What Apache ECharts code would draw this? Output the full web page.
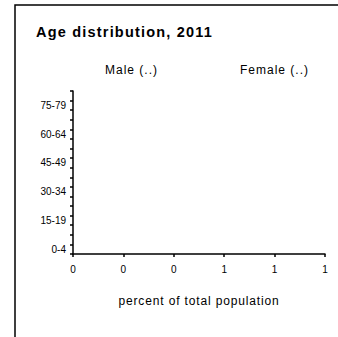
<!DOCTYPE html>
<html>
<head>
<meta charset="utf-8">
<script src="https://cdn.jsdelivr.net/npm/echarts@6/dist/echarts.min.js"></script>
<style>html,body{margin:0;padding:0;background:#fff}#c{width:338px;height:337px}</style>
</head>
<body>
<div id="c"></div>
<script>
var titleText = 'Age distribution, 2011';
var xAxisName = 'percent of total population';
var ageGroups = ['0-4','5-9','10-14','15-19','20-24','25-29','30-34','35-39','40-44','45-49','50-54','55-59','60-64','65-69','70-74','75-79','80+'];
var seriesNames = ['Male (..)', 'Female (..)'];
// values not available ("..") in the source
var maleValues = [null,null,null,null,null,null,null,null,null,null,null,null,null,null,null,null,null];
var femaleValues = [null,null,null,null,null,null,null,null,null,null,null,null,null,null,null,null,null];
var xTickValues = [0, 0.2, 0.4, 0.6, 0.8, 1];

var FONT = '"Liberation Sans", Arial, sans-serif';
var chart = echarts.init(document.getElementById('c'), null, {renderer: 'svg'});
chart.setOption({
  animation: false,
  backgroundColor: '#fff',
  graphic: [
    {type: 'rect', shape: {x: 15, y: 5, width: 400, height: 400},
     style: {fill: 'none', stroke: '#000', lineWidth: 1.5}, silent: true},
    {type: 'text', x: 36, y: 32, style: {text: titleText, font: 'bold 14.5px ' + FONT, fill: '#000', textAlign: 'left', textVerticalAlign: 'middle'}},
    {type: 'text', x: 105, y: 70, style: {text: seriesNames[0], font: '12px ' + FONT, fill: '#000', textAlign: 'left', textVerticalAlign: 'middle'}},
    {type: 'text', x: 240, y: 70, style: {text: seriesNames[1], font: '12px ' + FONT, fill: '#000', textAlign: 'left', textVerticalAlign: 'middle'}}
  ],
  grid: {left: 73, right: 13, top: 91, bottom: 83, containLabel: false},
  xAxis: {
    type: 'value', min: xTickValues[0], max: xTickValues[xTickValues.length - 1], interval: 0.2,
    name: xAxisName, nameLocation: 'middle', nameGap: 41,
    nameTextStyle: {fontFamily: FONT, fontSize: 12, color: '#000'},
    axisLine: {show: true, lineStyle: {color: '#000', width: 1.5}},
    axisTick: {show: true, length: 3, lineStyle: {color: '#000', width: 1.5}},
    splitLine: {show: false},
    axisLabel: {fontFamily: FONT, fontSize: 10, color: '#000', margin: 10,
      formatter: function (v) { return String(Math.round(v)); }}
  },
  yAxis: {
    type: 'category', data: ageGroups, boundaryGap: true,
    axisLine: {show: true, lineStyle: {color: '#000', width: 1.5}},
    axisTick: {show: true, interval: 0, length: 3, lineStyle: {color: '#000', width: 1.5}},
    axisLabel: {interval: 2, fontFamily: FONT, fontSize: 10, color: '#000', margin: 7},
    splitLine: {show: false}
  },
  series: [
    {name: seriesNames[0], type: 'bar', stack: 'p', data: maleValues},
    {name: seriesNames[1], type: 'bar', stack: 'p', data: femaleValues}
  ]
});
// widen spacing of the title / legend / axis-name texts as in the reference
var spacing = {};
spacing[titleText] = '1.2px';
spacing[seriesNames[0]] = '1px';
spacing[seriesNames[1]] = '1px';
spacing[xAxisName] = '0.85px';
function applySpacing() {
  var texts = document.querySelectorAll('#c svg text');
  for (var i = 0; i < texts.length; i++) {
    var s = spacing[texts[i].textContent];
    if (s) texts[i].style.letterSpacing = s;
  }
}
applySpacing();
chart.on('finished', applySpacing);
</script>
</body>
</html>
